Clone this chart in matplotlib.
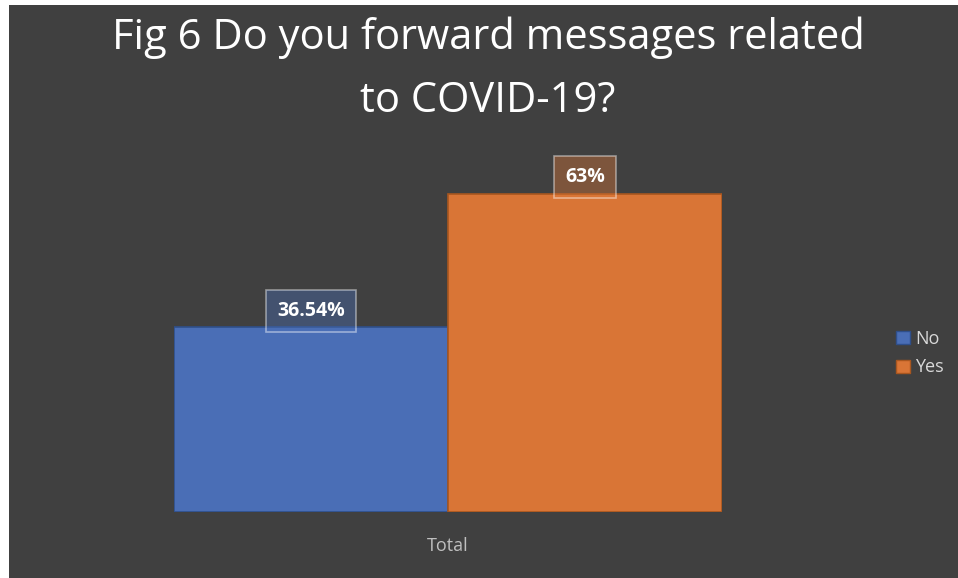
import matplotlib.pyplot as plt
from matplotlib.patches import Rectangle
from matplotlib.colors import to_rgb

categories = ['Total']
series = ['No', 'Yes']
values = [36.54, 63]
labels = ['36.54%', '63%']
colors = ['#4a6eb6', '#d97536']
edges = ['#2f4f8a', '#a8561f']

bg = '#404040'
fig = plt.figure(figsize=(9.58, 5.78), dpi=100)
fig.patch.set_facecolor('white')
fig.patches.append(Rectangle((9 / 958, 0), 1, 1 - 5 / 578, transform=fig.transFigure,
                             facecolor=bg, edgecolor='none', zorder=-10))

ax = fig.add_axes([174 / 958, 66 / 578, 548 / 958, 353.5 / 578])
ax.set_facecolor('none')
xs = [-0.25, 0.25]
ax.bar(xs, values, width=0.5, color=colors, edgecolor=edges, linewidth=1.2)
ax.set_xlim(-0.5, 0.5)
ax.set_ylim(0, 70)
for s in ax.spines.values():
    s.set_visible(False)
ax.set_yticks([])
ax.set_xticks([0])
ax.set_xticklabels(categories, color='#bfbfbf', fontsize=13, family='Open Sans')
ax.tick_params(axis='x', length=0, pad=18)

for x, v, lab, c in zip(xs, values, labels, colors):
    ax.annotate(lab, (x, v), xytext=(0, 12), textcoords='offset points', ha='center', va='center',
                color='white', fontsize=14, fontweight='bold', family='Open Sans',
                bbox=dict(boxstyle='square,pad=0.55', facecolor=(*to_rgb(c), 0.4),
                          edgecolor=(1, 1, 1, 0.45), linewidth=1.2))

handles = [Rectangle((0, 0), 1, 1, facecolor=c, edgecolor=e) for c, e in zip(colors, edges)]
fig.legend(handles, series, loc='center left', bbox_to_anchor=(880 / 958, 1 - 353 / 578),
           frameon=False, labelcolor='#d9d9d9', prop={'family': 'Open Sans', 'size': 13},
           handlelength=0.75, handleheight=0.75, handletextpad=0.3, labelspacing=0.6)

fig.text(488 / 958, 1 - 38 / 578, 'Fig 6 Do you forward messages related', ha='center', va='center',
         color='white', fontsize=30, family='Open Sans')
fig.text(488 / 958, 1 - 101 / 578, 'to COVID-19?', ha='center', va='center',
         color='white', fontsize=30, family='Open Sans')

fig.savefig('out.png', dpi=100)
